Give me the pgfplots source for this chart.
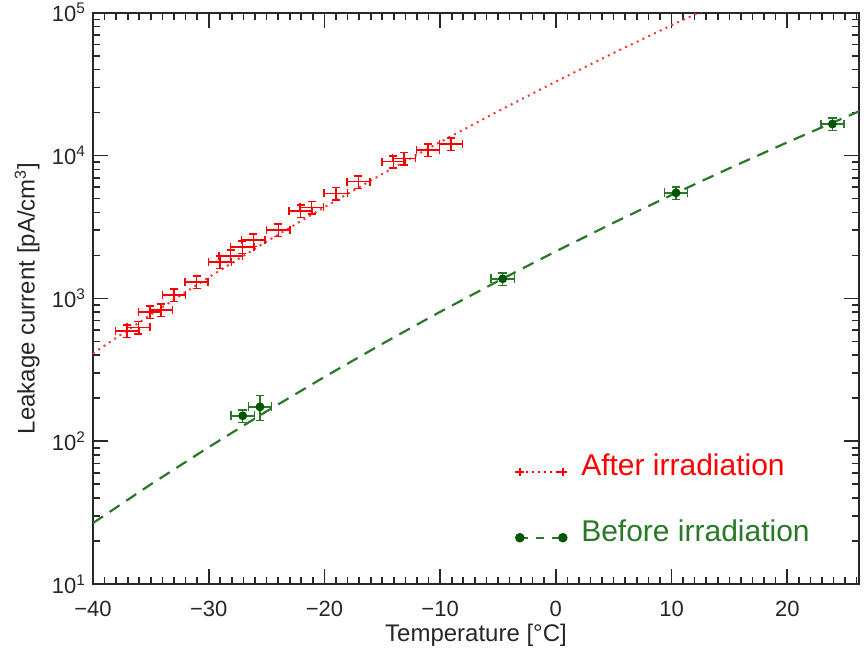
\documentclass[border=0pt]{standalone}
\usepackage{pgfplots}
\pgfplotsset{compat=1.18}
\usepackage{fontspec}
\setmainfont{Liberation Sans}
\definecolor{ptred}{RGB}{255,0,0}
\definecolor{fitred}{RGB}{255,50,50}
\definecolor{dgreen}{RGB}{0,85,0}
\definecolor{mgreen}{RGB}{40,120,40}
\definecolor{axgray}{RGB}{40,40,40}
\pgfplotsset{twoend/.style={legend image code/.code={\draw[##1] plot coordinates {(0pt,-3pt) (21.5pt,-3pt)};}}}
\begin{document}
\begin{tikzpicture}
\useasboundingbox (-46.5pt,-34pt) rectangle (385.5pt,292pt);
\begin{axis}[
  at={(0pt,0pt)}, anchor=south west,
  scale only axis, width=383pt, height=285.6pt,
  xmin=-40, xmax=26.2, ymode=log, ymin=10, ymax=1e5,
  axis line style={axgray, line width=0.8pt},
  every tick/.style={axgray, line width=0.8pt},
  tick align=inside,
  major tick length=7.5pt, minor tick length=3.5pt,
  xtick={-40,-30,-20,-10,0,10,20},
  xticklabels={−40,−30,−20,−10,0,10,20},
  minor xtick={-39,-38,...,26},
  ytick={10,100,1000,10000,100000},
  yticklabels={10\textsuperscript{1},10\textsuperscript{2},10\textsuperscript{3},10\textsuperscript{4},10\textsuperscript{5}},
  minor ytick={20,30,40,50,60,70,80,90,200,300,400,500,600,700,800,900,2000,3000,4000,5000,6000,7000,8000,9000,20000,30000,40000,50000,60000,70000,80000,90000},
  tick label style={font=\fontsize{11}{13}\selectfont, black!85},
  xticklabel style={yshift=-5pt},
  xlabel={Temperature [°C]},
  ylabel={Leakage current [pA/cm\textsuperscript{3}]},
  label style={font=\fontsize{12}{14}\selectfont, black!85},
  xlabel style={at={(axis description cs:0.5,-0.1)}, anchor=base},
  ylabel style={at={(axis description cs:-0.086,0.5)}, anchor=center},
  legend style={at={(axis description cs:0.551,0.149)}, anchor=west, draw=none, fill=none, inner sep=0pt,
    font=\fontsize{15}{18}\selectfont, row sep=16.5pt,
    /tikz/every odd column/.append style={column sep=5pt}},
  legend cell align=left,
]
% fit lines
\addplot[forget plot, fitred, line width=1pt, dash pattern=on 1pt off 2.2pt] coordinates {
(-40,412) (-35,770) (-30,1404) (-25,2500) (-20,4355) (-15,7430) (-10,12440) (-5,20420) (0,32970) (5,52360) (10,81840) (15,126000)};
\addplot[forget plot, mgreen, line width=1.1pt, dash pattern=on 6pt off 4pt] coordinates {
(-40,26.7) (-35,49.9) (-30,90.8) (-25,161.8) (-20,281.8) (-15,480.8) (-10,805) (-5,1322) (0,2134) (5,3388) (10,5297) (15,8150) (20,12380) (25,18550) (26.2,20400)};
% after irradiation
\addplot[forget plot, only marks, mark=+, ptred, mark size=2.5pt,
  error bars/.cd, x dir=both, x explicit, y dir=both, y explicit relative,
  error bar style={ptred, line width=0.75pt},
  error mark options={rotate=90, ptred, mark size=2pt, line width=0.75pt}]
coordinates {
(-37.04,593) +- (1,0.1)
(-36.08,627) +- (1,0.1)
(-35.07,806) +- (1,0.1)
(-34.12,828) +- (1,0.1)
(-33.00,1054) +- (1,0.1)
(-31.04,1306) +- (1,0.1)
(-29.02,1803) +- (1,0.1)
(-28.10,1977) +- (1,0.1)
(-27.10,2297) +- (1,0.1)
(-26.15,2558) +- (1,0.1)
(-23.99,3006) +- (1,0.1)
(-22.05,4105) +- (1,0.1)
(-21.10,4338) +- (1,0.1)
(-19.02,5433) +- (1,0.1)
(-17.07,6560) +- (1,0.1)
(-14.04,9060) +- (1,0.1)
(-13.11,9555) +- (1,0.1)
(-11.06,10940) +- (1,0.1)
(-9.05,12050) +- (1,0.1)
};
% before irradiation
\addplot[forget plot, only marks, mark=*, dgreen, mark size=2pt,
  error bars/.cd, x dir=both, x explicit, y dir=both, y explicit relative,
  error bar style={mgreen, line width=0.75pt},
  error mark options={rotate=90, mgreen, mark size=2.2pt, line width=0.75pt}]
coordinates {
(-27.06,150.6) +- (1,0.1)
(-25.57,174) +- (1,0.2)
(-4.59,1371) +- (1,0.1)
(10.39,5484) +- (1,0.1)
(23.90,16630) +- (1,0.1)
};
\addlegendimage{ptred, line width=0.9pt, dash pattern=on 1pt off 2pt, mark=+, mark options={solid, mark size=2.2pt}, twoend}
\addlegendentry{\textcolor{ptred}{After irradiation}}
\addlegendimage{mgreen, line width=1.1pt, dash pattern=on 4pt off 4pt, mark=*, mark options={solid, dgreen, mark size=1.8pt}, twoend}
\addlegendentry{\textcolor{mgreen}{Before irradiation}}
\end{axis}
\end{tikzpicture}
\end{document}
